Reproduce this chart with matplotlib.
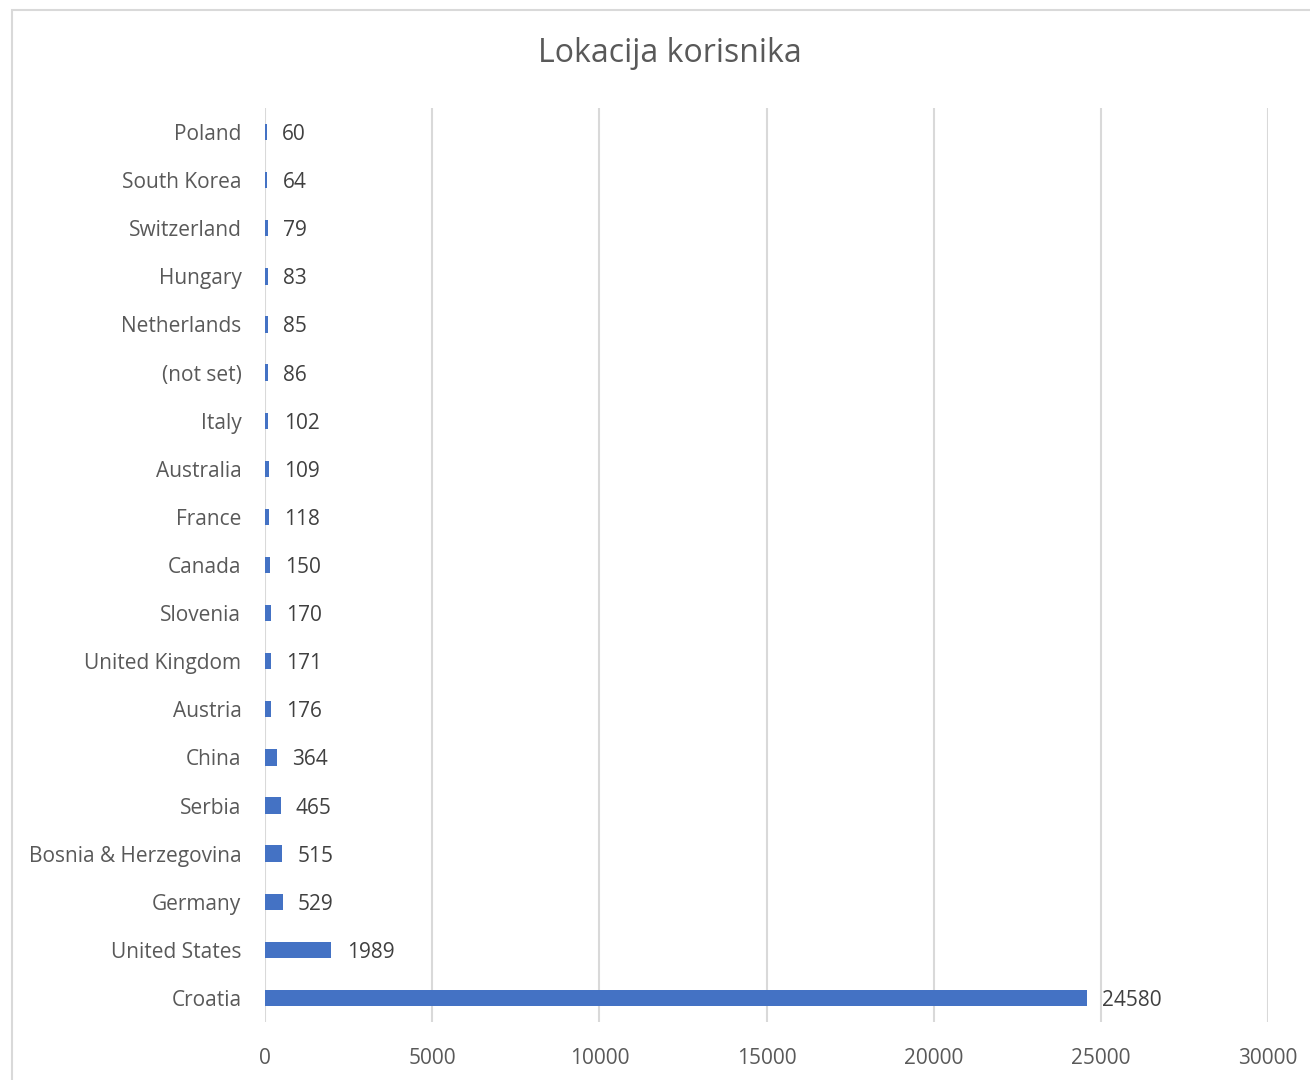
import matplotlib.pyplot as plt
from matplotlib.patches import Rectangle

countries = ["Croatia", "United States", "Germany", "Bosnia & Herzegovina", "Serbia",
             "China", "Austria", "United Kingdom", "Slovenia", "Canada", "France",
             "Australia", "Italy", "(not set)", "Netherlands", "Hungary",
             "Switzerland", "South Korea", "Poland"]
users = [24580, 1989, 529, 515, 465, 364, 176, 171, 170, 150, 118, 109, 102, 86,
         85, 83, 79, 64, 60]
x_ticks = [0, 5000, 10000, 15000, 20000, 25000, 30000]

plt.rcParams['font.family'] = ['Open Sans', 'DejaVu Sans']

fig = plt.figure(figsize=(13.1, 10.8), dpi=100)
# chart border
fig.patches.append(Rectangle((12 / 1310, -0.05), 1.1, 1 - 10 / 1080 + 0.05,
                             transform=fig.transFigure, fill=False,
                             edgecolor="#D9D9D9", linewidth=1.5))

ax = fig.add_axes([265 / 1310, 1 - 1022 / 1080, (1268 - 265) / 1310, (1022 - 108) / 1080])
pos = list(range(len(countries)))
ax.barh(pos, users, height=0.34, color="#4472C4")
for p, v in zip(pos, users):
    ax.annotate(str(v), (v, p), xytext=(11, 0), textcoords="offset points",
                va="center_baseline", ha="left", fontsize=15, color="#404040")

ax.set_xlim(0, 30000)
ax.set_ylim(-0.5, len(countries) - 0.5)
ax.set_xticks(x_ticks)
ax.set_xticklabels([str(t) for t in x_ticks], fontsize=15, color="#595959")
ax.set_yticks(pos)
ax.set_yticklabels(countries, fontsize=15, color="#595959")
ax.tick_params(axis="both", length=0)
ax.tick_params(axis="x", pad=19)
ax.tick_params(axis="y", pad=17)
ax.grid(axis="x", color="#D9D9D9", linewidth=1.5)
ax.set_axisbelow(True)
for s in ax.spines.values():
    s.set_visible(False)

fig.text(670 / 1310, 1 - 53 / 1080, "Lokacija korisnika", ha="center", va="center",
         fontsize=23, color="#595959")

fig.savefig("out.png", dpi=100, facecolor="white")
